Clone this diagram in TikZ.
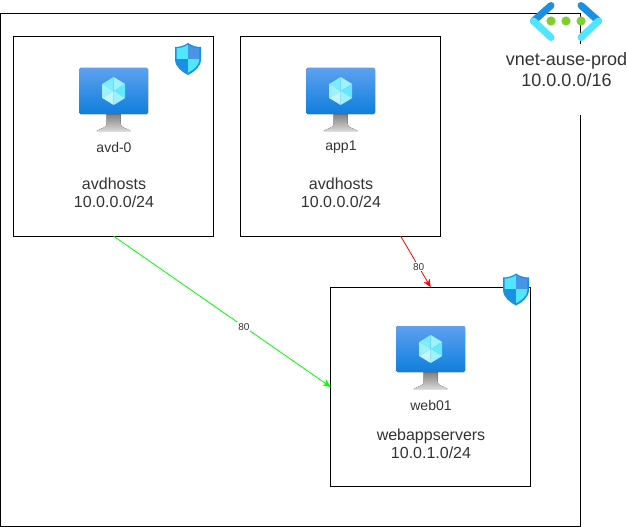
\documentclass[tikz,border=0pt]{standalone}
\usepackage{fontspec}
\setmainfont{Liberation Sans}
\usetikzlibrary{arrows.meta,positioning,calc}

\definecolor{txtgray}{HTML}{333333}
\definecolor{azdark}{HTML}{1B8FE3}
\definecolor{azlight}{HTML}{50E6FF}
\definecolor{azmid}{HTML}{4A94E6}
\definecolor{azdeep}{HTML}{0F7FDD}
\definecolor{aztop}{HTML}{5EA0EF}
\definecolor{dotgreen}{HTML}{7FD02F}

\newcommand{\shieldoutline}{(0,0) .. controls (4,3) and (9,4) .. (13,4) -- (13,16) .. controls (13,24) and (6,29) .. (0,32) .. controls (-6,29) and (-13,24) .. (-13,16) -- (-13,4) .. controls (-9,4) and (-4,3) .. (0,0) -- cycle}

\tikzset{
  netbox/.style={draw, line width=1pt, minimum width=200pt, minimum height=199.5pt, inner sep=0pt, outer sep=0pt},
  biglabel/.style={font=\fontsize{16}{18.5}\selectfont, text=txtgray, align=center, inner sep=0pt},
  vnetlabel/.style={font=\fontsize{18}{21}\selectfont, text=txtgray, align=center, inner sep=0pt},
  vmlabel/.style={font=\fontsize{14}{16}\selectfont, text=txtgray, inner sep=0pt},
  rulelabel/.style={font=\fontsize{10}{12}\selectfont, text=txtgray, fill=white, inner sep=1pt, pos=0.6},
  rulearrow/.style={-{Stealth[length=8pt,width=7pt]}, line width=0.8pt},
  vmicon/.pic={
    \fill[top color=black!50, bottom color=black!15] (-7,46) -- (7,46) -- (7,56) .. controls (7,60) and (13,60) .. (17,63) -- (-17,63) .. controls (-13,60) and (-7,60) .. (-7,56) -- cycle;
    \fill[rounded corners=1.5pt, top color=aztop, bottom color=azdeep] (-34.5,0) rectangle (34.5,46);
    \fill[azlight!55!white] (0,9) -- (11.5,16) -- (0,23) -- cycle;
    \fill[azlight!75!white] (0,9) -- (-11.5,16) -- (0,23) -- cycle;
    \fill[azlight!90!white] (11.5,16) -- (11.5,30) -- (0,23) -- cycle;
    \fill[azlight!55!white] (11.5,30) -- (0,37) -- (0,23) -- cycle;
    \fill[azlight!35!white] (-11.5,30) -- (0,37) -- (0,23) -- cycle;
    \fill[azlight!55!white] (-11.5,16) -- (-11.5,30) -- (0,23) -- cycle;
  },
  shieldicon/.pic={
    \fill[azdark] \shieldoutline;
    \begin{scope}[shift={(0,1.6)}, scale=0.88]
      \clip \shieldoutline;
      \fill[azlight] (-14,0) rectangle (0,16);
      \fill[azmid] (0,0) rectangle (14,16);
      \fill[azdark] (-14,16) rectangle (0,33);
      \fill[azlight] (0,16) rectangle (14,33);
    \end{scope}
  }
}

\begin{document}
\begin{tikzpicture}[x=1pt, y=-1pt]
\useasboundingbox (0,0) rectangle (627,527);

% vnet outline, open behind the label
\draw[line width=1pt] (580.5,44) -- (580.5,13.5) -- (0.5,13.5) -- (0.5,526) -- (580.5,526) -- (580.5,115);

\node[netbox] (avdbox) at (113.7,136.5) {};
\node[netbox, right=27pt of avdbox] (appbox) {};
\node[netbox] (webbox) at (430.7,387) {};

% vnet icon
\draw[azdark, line width=7pt, line cap=round] (551,5.5) -- (533.5,21);
\draw[azlight, line width=7pt, line cap=round] (533.5,21) -- (551,37.5);
\draw[azdark, line width=7pt, line cap=round] (581,5.5) -- (598.5,21);
\draw[azlight, line width=7pt, line cap=round] (598.5,21) -- (581,37.5);
\foreach \dotx in {551,566,581}
  \fill[dotgreen] (\dotx,21) circle (4.6pt);
\node[vnetlabel] (vnettext) at (566.5,70) {vnet-ause-prod\\10.0.0.0/16};

\pic at (avdbox.north |- 0,68) {vmicon};
\pic at (appbox.north |- 0,68) {vmicon};
\pic at (webbox.north |- 0,326) {vmicon};
\pic at (188,43) {shieldicon};
\pic at (516,273.5) {shieldicon};

\node[vmlabel] (avdvm) at (114,147) {avd-0};
\node[vmlabel] (appvm) at (341,147) {app1};
\node[vmlabel] (webvm) at (431,405) {web01};

\node[biglabel] (avdnet) at (114,193) {avdhosts\\10.0.0.0/24};
\node[biglabel] (appnet) at (341,193) {avdhosts\\10.0.0.0/24};
\node[biglabel] (webnet) at (431,444) {webappservers\\10.0.1.0/24};

\draw[rulearrow, green] (avdbox.south) -- node[rulelabel] {80} (webbox.west);
\draw[rulearrow, red] ($(appbox.south west)!0.8!(appbox.south east)$) -- node[rulelabel] {80} (webbox.north);

\end{tikzpicture}
\end{document}
